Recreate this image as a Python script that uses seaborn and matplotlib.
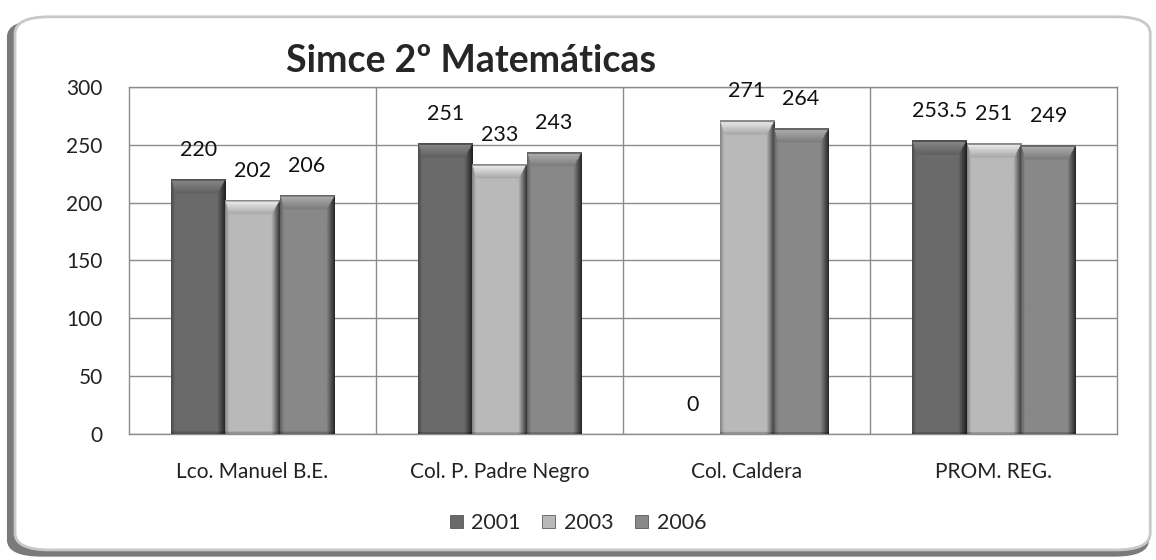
import numpy as np
import pandas as pd
import matplotlib
matplotlib.use("Agg")
import matplotlib.pyplot as plt
from matplotlib.patches import FancyBboxPatch
import seaborn as sns

# dati
colegios = ["Lco. Manuel B.E.", "Col. P. Padre Negro", "Col. Caldera", "PROM. REG."]
anios = ["2001", "2003", "2006"]
puntaje_2001 = [220, 251, 0, 253.5]
puntaje_2003 = [202, 233, 271, 251]
puntaje_2006 = [206, 243, 264, 249]
etiquetas_y = [0, 50, 100, 150, 200, 250, 300]

colori = {"2001": "#6a6a6a", "2003": "#b9b9b9", "2006": "#888888"}

df = pd.DataFrame({
    "colegio": colegios * 3,
    "anio": [a for a in anios for _ in colegios],
    "puntaje": puntaje_2001 + puntaje_2003 + puntaje_2006,
})

sns.set_style("white")
plt.rcParams["font.family"] = ["Lato", "DejaVu Sans"]

fig = plt.figure(figsize=(11.56, 5.6), dpi=100)

# cornice arrotondata con ombra
ombra = FancyBboxPatch((0.006, 0.006), 0.988, 0.958, boxstyle="round,pad=0,rounding_size=0.03",
                       transform=fig.transFigure, facecolor="#7a7a7a", edgecolor="none", zorder=-2)
fig.patches.append(ombra)
cornice = FancyBboxPatch((0.013, 0.018), 0.982, 0.952, boxstyle="round,pad=0,rounding_size=0.03",
                         transform=fig.transFigure, facecolor="white", edgecolor="#c8c8c8",
                         linewidth=2, zorder=-1)
fig.patches.append(cornice)

ax = fig.add_axes([0.1116, 0.225, 0.855, 0.62])
ax.set_facecolor("none")
ax.set_zorder(5)

sns.barplot(data=df, x="colegio", y="puntaje", hue="anio", palette=colori, order=colegios,
            hue_order=anios, width=0.66, gap=0, saturation=1, edgecolor="none", ax=ax, zorder=2)

ax.set_ylim(0, 300)
ax.set_xlim(-0.5, len(colegios) - 0.5)

# effetto rilievo sulle barre (bordi scuri e bordo superiore chiaro)
def rilievo(patch):
    x0, w, h = patch.get_x(), patch.get_width(), patch.get_height()
    if h <= 0:
        return
    base = np.array(patch.get_facecolor()[:3])
    nx, ny = 60, 300
    u = np.linspace(0, 1, nx)
    v = np.linspace(h, 0, ny)  # dall'alto in basso
    U, V = np.meshgrid(u, v)
    dall_alto = h - V
    fatt = np.ones_like(U)
    # lato sinistro
    fatt = np.where(U < 0.07, 0.72 + 0.28 * U / 0.07, fatt)
    # lato destro
    fatt = np.where(U > 0.86, 0.95 - 0.65 * (U - 0.86) / 0.14, fatt)
    # banda superiore (trapezio)
    banda = 12.0
    dentro = (dall_alto < banda) & (U > 0.07 * dall_alto / banda) & (U < 1 - 0.14 * dall_alto / banda)
    fatt = np.where(dentro, 1.3 - 0.4 * dall_alto / banda, fatt)
    fatt = np.where(dall_alto < 1.0, 0.75, fatt)
    # bordo inferiore scuro
    fatt = np.where(V < 1.5, fatt * 0.8, fatt)
    img = np.clip(base[None, None, :] * fatt[:, :, None], 0, 1)
    ax.imshow(img, extent=[x0, x0 + w, 0, h], aspect="auto", zorder=3, interpolation="bilinear")

for p in list(ax.patches):
    if p.get_width() > 0:
        rilievo(p)

ax.set_ylim(0, 300)
ax.set_xlim(-0.5, len(colegios) - 0.5)

# etichette dei valori
for cont in ax.containers:
    ax.bar_label(cont, labels=[f"{v:g}" for v in cont.datavalues], padding=14,
                 fontsize=15.5, color="#111111", clip_on=False, zorder=4)

# griglia
ax.set_yticks(etiquetas_y)
ax.yaxis.grid(True, color="#8c8c8c", linewidth=1, zorder=0)
for sep in np.arange(0.5, len(colegios) - 0.5, 1):
    ax.axvline(sep, color="#8c8c8c", linewidth=1, zorder=0)
for s in ax.spines.values():
    s.set_color("#8c8c8c")
    s.set_linewidth(1)

ax.tick_params(axis="y", length=0, pad=19, labelsize=15, labelcolor="#222222")
ax.tick_params(axis="x", length=0, pad=20, labelsize=15, labelcolor="#222222")
ax.set_xlabel("")
ax.set_ylabel("")

ax.set_title("Simce 2º Matemáticas", fontsize=27, fontweight="bold", x=0.346, y=1.0, pad=11)

# legenda in basso
ax.get_legend().remove()
maniglie = [plt.Rectangle((0, 0), 1, 1, facecolor=colori[a], edgecolor="#444444", linewidth=0.5)
            for a in anios]
fig.legend(maniglie, anios, loc="center", bbox_to_anchor=(0.5, 0.066), ncol=3, frameon=False,
           fontsize=15.5, handlelength=0.6, handleheight=0.6, handletextpad=0.4, columnspacing=1.0)

fig.savefig("out.png", dpi=100)
